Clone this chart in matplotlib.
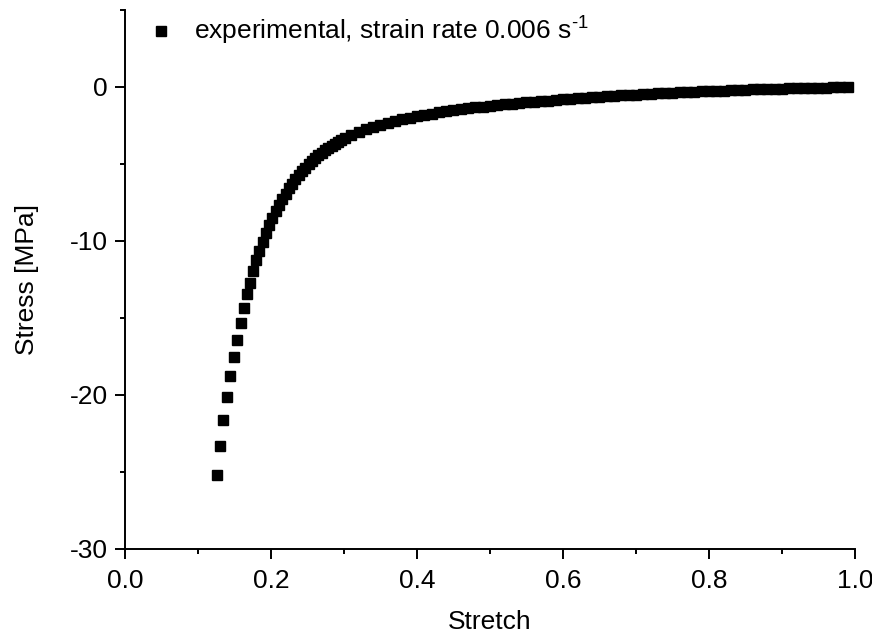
# stress-stretch curve, compression test
import matplotlib
matplotlib.use('Agg')
import matplotlib.pyplot as plt
from matplotlib.ticker import MultipleLocator

plt.rcParams['font.family'] = ['Liberation Sans', 'DejaVu Sans']
plt.rcParams['mathtext.fontset'] = 'custom'
plt.rcParams['mathtext.rm'] = 'Liberation Sans'
plt.rcParams['mathtext.it'] = 'Liberation Sans:italic'

# values
stretch = [0.1256, 0.1301, 0.1347, 0.1397, 0.1442, 0.1489, 0.1538, 0.1589, 0.1630, 0.1672,
           0.1706, 0.1751, 0.1796, 0.1841, 0.1886, 0.1931, 0.1976, 0.2021, 0.2066, 0.2111,
           0.2156, 0.2201, 0.2246, 0.2291, 0.2336, 0.2381, 0.2426, 0.2471, 0.2516, 0.2561,
           0.2606, 0.2651, 0.2696, 0.2741, 0.2786, 0.2831, 0.2876, 0.2921, 0.2966, 0.3011,
           0.31, 0.32, 0.33, 0.34, 0.35, 0.36, 0.37, 0.38, 0.39, 0.40,
           0.41, 0.42, 0.43, 0.44, 0.45, 0.46, 0.47, 0.48, 0.49, 0.50,
           0.51, 0.52, 0.53, 0.54, 0.55, 0.56, 0.57, 0.58, 0.59, 0.60,
           0.61, 0.62, 0.63, 0.64, 0.65, 0.66, 0.67, 0.68, 0.69, 0.70,
           0.71, 0.72, 0.73, 0.74, 0.75, 0.76, 0.77, 0.78, 0.79, 0.80,
           0.81, 0.82, 0.83, 0.84, 0.85, 0.86, 0.87, 0.88, 0.89, 0.90,
           0.91, 0.92, 0.93, 0.94, 0.95, 0.96, 0.97, 0.98, 0.99]
stress = [-25.17, -23.33, -21.63, -20.16, -18.79, -17.51, -16.40, -15.30, -14.35, -13.45,
          -12.70, -11.95, -11.25, -10.62, -10.05, -9.50, -8.98, -8.50, -8.06, -7.65,
          -7.27, -6.92, -6.59, -6.28, -5.99, -5.72, -5.47, -5.24, -5.02, -4.81,
          -4.62, -4.44, -4.27, -4.11, -3.96, -3.82, -3.69, -3.56, -3.44, -3.33,
          -3.12, -2.93, -2.75, -2.59, -2.45, -2.32, -2.20, -2.09, -1.99, -1.90,
          -1.81, -1.73, -1.65, -1.58, -1.51, -1.45, -1.39, -1.33, -1.28, -1.23,
          -1.18, -1.13, -1.09, -1.04, -1.00, -0.96, -0.92, -0.88, -0.84, -0.80,
          -0.77, -0.73, -0.70, -0.67, -0.64, -0.61, -0.58, -0.55, -0.52, -0.49,
          -0.46, -0.44, -0.41, -0.39, -0.37, -0.35, -0.33, -0.31, -0.29, -0.27,
          -0.25, -0.23, -0.21, -0.19, -0.17, -0.16, -0.14, -0.13, -0.11, -0.10,
          -0.09, -0.08, -0.07, -0.06, -0.05, -0.04, -0.03, -0.02, -0.01]

fig = plt.figure(figsize=(8.72, 6.36), dpi=100)
ax = fig.add_axes([0.1433, 0.1368, 0.8372, 0.8475])

ax.plot(stretch, stress, linestyle='none', marker='s', ms=7.6, color='black',
        label='experimental, strain rate 0.006 s$^{\\text{-1}}$')

ax.set_xlim(0.0, 1.0)
ax.set_ylim(-30, 5)
ax.xaxis.set_major_locator(MultipleLocator(0.2))
ax.xaxis.set_minor_locator(MultipleLocator(0.1))
ax.yaxis.set_major_locator(MultipleLocator(10))
ax.yaxis.set_minor_locator(MultipleLocator(5))

ax.spines['top'].set_visible(False)
ax.spines['right'].set_visible(False)
for s in ['left', 'bottom']:
    ax.spines[s].set_linewidth(1.4)
ax.tick_params(which='major', direction='out', length=7.5, width=1.4, labelsize=19, pad=5)
ax.tick_params(axis='x', which='major', pad=7)
ax.tick_params(which='minor', direction='out', length=3.8, width=1.4)
ax.set_yticks([-30, -20, -10, 0])
ax.yaxis.set_major_formatter(plt.FuncFormatter(lambda v, p: '%d' % v))

ax.set_xlabel('Stretch', fontsize=19, labelpad=12)
ax.set_ylabel('Stress [MPa]', fontsize=19, labelpad=22)

ax.legend(loc='upper left', bbox_to_anchor=(0.01, 1.02), frameon=False, fontsize=19,
          handlelength=1.0, handletextpad=0.75, borderaxespad=0.2)

plt.savefig('out.png', dpi=100)
